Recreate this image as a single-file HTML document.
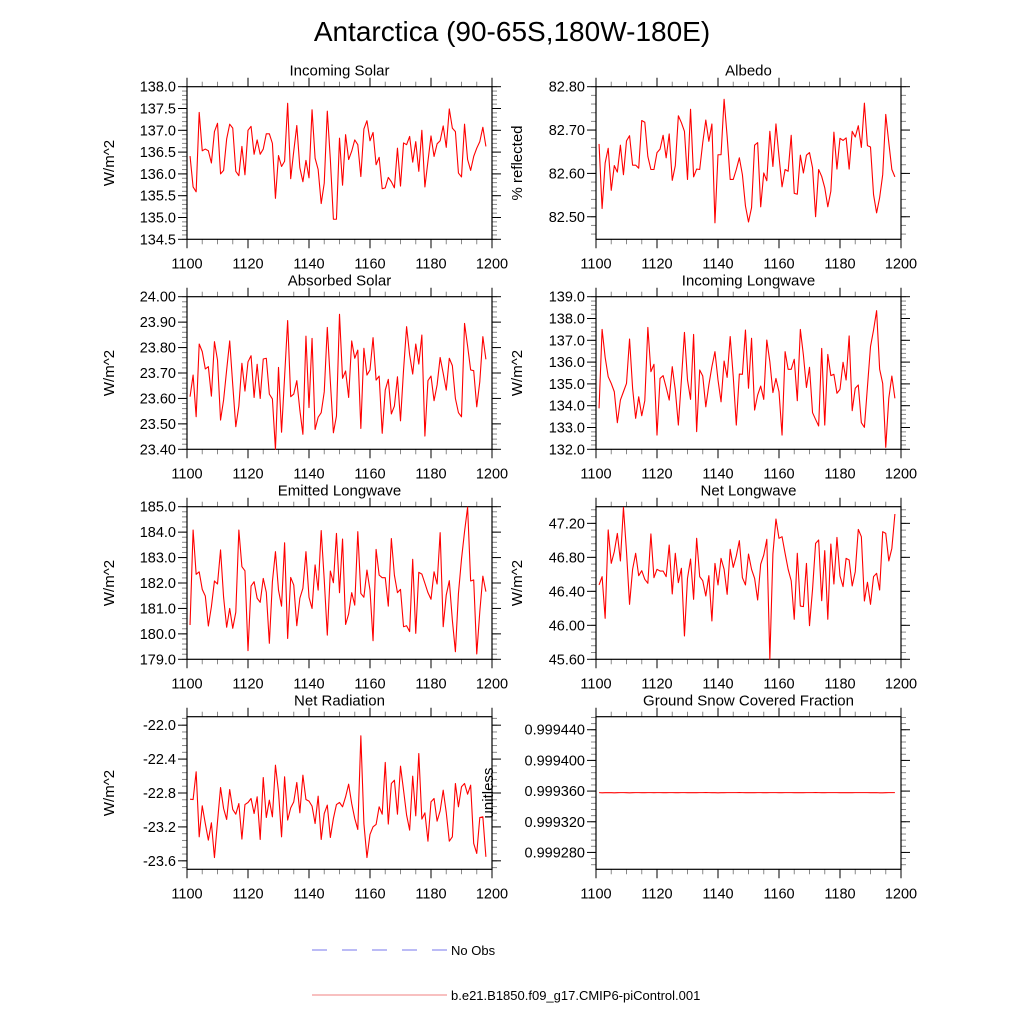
<!DOCTYPE html>
<html><head><meta charset="utf-8"><style>
html,body{margin:0;padding:0;background:#fff;}
svg{display:block;font-family:"Liberation Sans",Arial,sans-serif;}
</style></head><body>
<svg id="chart" width="1024" height="1024" viewBox="0 0 1024 1024" xmlns="http://www.w3.org/2000/svg">
<text x="512" y="41" text-anchor="middle" font-size="28" fill="#000">Antarctica (90-65S,180W-180E)</text>
<g>
<line x1="312" y1="950" x2="447" y2="950" stroke="#7777ee" stroke-width="1" stroke-dasharray="15,15"/>
<text x="451" y="955" font-size="13">No Obs</text>
<line x1="312" y1="995" x2="447" y2="995" stroke="#f08080" stroke-width="1"/>
<text x="451" y="1000" font-size="13">b.e21.B1850.f09_g17.CMIP6-piControl.001</text>
</g>
</svg>
<script>
const startYear = 1101;
const xTickLabels = [1100, 1120, 1140, 1160, 1180, 1200];
const incomingSolar = [136.41,135.70,135.59,137.41,136.53,136.57,136.53,136.25,136.97,137.16,136.0,136.08,136.8,137.14,137.05,136.06,135.96,136.63,135.98,137.0,137.09,136.45,136.78,136.45,136.57,136.92,136.92,136.7,135.44,136.42,136.17,136.29,137.62,135.89,136.52,137.11,136.14,135.82,136.31,135.91,137.47,136.36,136.1,135.32,135.79,137.44,136.33,134.96,134.96,136.82,135.74,136.9,136.33,136.52,136.78,136.67,135.94,137.03,137.22,136.76,136.95,136.21,136.38,135.66,135.68,135.92,135.82,135.68,136.59,135.72,136.71,136.67,136.86,136.27,136.74,136.06,137.0,135.70,136.29,136.87,136.40,136.69,136.76,137.10,136.61,137.49,137.05,136.97,136.02,135.93,137.14,136.33,136.08,136.40,136.59,136.74,137.07,136.63];
const albedo = [82.668,82.519,82.624,82.658,82.561,82.618,82.603,82.665,82.597,82.675,82.687,82.619,82.619,82.612,82.722,82.718,82.639,82.609,82.609,82.648,82.656,82.688,82.636,82.691,82.584,82.618,82.733,82.717,82.697,82.586,82.748,82.592,82.610,82.609,82.671,82.723,82.674,82.714,82.486,82.643,82.643,82.771,82.685,82.586,82.586,82.609,82.636,82.597,82.525,82.488,82.521,82.665,82.671,82.523,82.601,82.583,82.697,82.616,82.714,82.639,82.569,82.609,82.605,82.688,82.554,82.552,82.642,82.601,82.642,82.648,82.613,82.500,82.609,82.593,82.567,82.523,82.559,82.695,82.610,82.681,82.676,82.682,82.610,82.697,82.684,82.710,82.660,82.762,82.664,82.661,82.551,82.509,82.544,82.597,82.736,82.671,82.609,82.592];
const absorbedSolar = [23.607,23.692,23.528,23.814,23.784,23.716,23.725,23.609,23.823,23.751,23.515,23.594,23.712,23.826,23.653,23.489,23.570,23.738,23.629,23.744,23.768,23.604,23.734,23.600,23.755,23.758,23.617,23.598,23.400,23.722,23.467,23.685,23.906,23.607,23.617,23.670,23.554,23.459,23.845,23.564,23.836,23.478,23.526,23.544,23.626,23.879,23.666,23.465,23.531,23.931,23.679,23.708,23.604,23.826,23.758,23.790,23.482,23.797,23.692,23.712,23.839,23.672,23.688,23.463,23.633,23.675,23.539,23.570,23.685,23.512,23.712,23.882,23.771,23.696,23.814,23.735,23.849,23.452,23.670,23.688,23.591,23.653,23.761,23.699,23.633,23.758,23.729,23.600,23.544,23.528,23.895,23.806,23.712,23.709,23.567,23.666,23.843,23.754];
const incomingLongwave = [133.88,137.50,136.22,135.33,135.02,134.64,133.22,134.26,134.64,135.02,137.06,134.80,133.42,134.41,133.54,134.23,137.59,135.56,135.90,132.65,135.25,135.38,134.84,134.26,135.79,134.72,133.11,135.18,137.36,135.18,134.29,137.27,132.81,135.64,135.36,133.95,134.95,135.79,136.48,135.18,134.18,136.05,135.30,137.17,135.33,133.11,135.45,135.44,137.47,134.80,137.09,133.80,134.49,134.90,134.29,137.01,136.02,134.60,135.25,134.64,132.65,136.48,135.67,135.67,136.13,134.23,137.50,136.32,134.84,135.76,133.68,133.37,133.07,136.63,133.11,136.35,135.38,135.44,134.57,134.75,135.99,135.18,137.20,133.77,134.80,134.95,133.22,133.01,134.87,136.71,137.47,138.36,135.67,135.02,132.09,134.34,135.36,134.34];
const emittedLongwave = [180.35,184.08,182.34,182.44,181.75,181.49,180.31,181.07,182.08,181.96,183.30,181.44,180.26,181.00,180.22,180.85,184.08,182.64,182.48,179.34,181.88,182.05,181.40,181.24,182.18,181.63,179.63,182.05,183.23,181.72,181.09,183.58,179.82,182.22,181.92,180.32,181.40,181.79,183.23,181.44,181.00,182.71,181.72,184.06,182.12,179.95,182.47,182.01,183.95,181.62,183.73,180.37,180.78,181.62,181.13,184.02,181.59,181.44,182.51,181.72,179.73,183.32,182.31,182.21,182.21,181.09,183.75,182.31,181.62,181.75,180.28,180.32,180.09,182.93,180.02,182.42,182.35,181.99,181.62,181.36,182.44,181.96,183.98,180.28,181.53,182.09,180.54,179.30,181.59,182.94,184.02,184.98,182.08,182.12,179.21,180.87,182.27,181.66];
const netLongwave = [46.475,46.573,46.082,47.122,46.729,46.867,47.082,46.757,47.388,46.867,46.247,46.659,46.847,46.584,46.643,46.541,46.494,47.075,46.561,46.659,46.639,46.639,46.573,46.945,46.369,46.847,46.502,46.671,45.875,46.553,46.780,46.306,47.024,46.573,46.525,46.345,46.584,46.051,46.729,46.475,46.788,46.659,46.365,46.894,46.682,46.816,46.996,46.561,46.475,46.839,46.659,46.553,46.298,46.720,46.827,47.012,45.600,46.839,47.251,47.024,47.043,46.847,46.659,46.525,46.071,46.847,46.227,46.220,46.729,45.996,46.424,46.965,47.004,46.290,46.878,46.071,46.957,46.486,47.035,46.580,46.455,46.788,46.769,46.463,46.631,47.129,47.043,46.286,46.506,46.247,46.573,46.612,46.416,47.102,47.082,46.757,46.906,47.310];
const netRadiation = [-22.873,-22.877,-22.550,-23.317,-22.951,-23.160,-23.356,-23.152,-23.561,-23.140,-22.735,-22.983,-23.112,-22.759,-22.994,-23.050,-22.924,-23.344,-22.936,-22.912,-22.865,-23.042,-22.845,-23.348,-22.617,-23.089,-22.884,-23.081,-22.472,-22.786,-23.317,-22.609,-23.120,-22.975,-22.904,-22.676,-23.034,-22.590,-22.877,-22.896,-22.955,-23.160,-22.837,-23.348,-23.042,-22.943,-23.325,-23.101,-22.936,-22.912,-22.963,-22.845,-22.696,-22.924,-23.101,-23.230,-22.126,-23.160,-23.561,-23.289,-23.199,-23.171,-22.963,-23.050,-22.440,-23.167,-22.688,-22.649,-23.050,-22.483,-22.767,-23.061,-23.238,-22.601,-23.069,-22.334,-23.108,-23.034,-23.368,-22.904,-22.865,-23.132,-23.010,-22.767,-23.030,-23.368,-23.317,-22.688,-22.963,-22.727,-22.688,-22.814,-22.708,-23.395,-23.513,-23.089,-23.081,-23.553];
const snowFraction = [0.9993580,0.9993578,0.9993579,0.9993580,0.9993579,0.9993578,0.9993579,0.9993580,0.9993580,0.9993579,0.9993578,0.9993579,0.9993580,0.9993580,0.9993579,0.9993579,0.9993580,0.9993580,0.9993579,0.9993580,0.9993580,0.9993579,0.9993579,0.9993580,0.9993580,0.9993579,0.9993579,0.9993580,0.9993580,0.9993579,0.9993579,0.9993580,0.9993579,0.9993580,0.9993580,0.9993581,0.9993580,0.9993579,0.9993579,0.9993578,0.9993579,0.9993579,0.9993580,0.9993580,0.9993580,0.9993580,0.9993581,0.9993580,0.9993579,0.9993579,0.9993580,0.9993579,0.9993580,0.9993580,0.9993579,0.9993579,0.9993580,0.9993580,0.9993580,0.9993579,0.9993579,0.9993580,0.9993580,0.9993580,0.9993579,0.9993580,0.9993579,0.9993579,0.9993580,0.9993580,0.9993580,0.9993581,0.9993580,0.9993579,0.9993579,0.9993580,0.9993580,0.9993580,0.9993580,0.9993579,0.9993580,0.9993579,0.9993580,0.9993579,0.9993580,0.9993580,0.9993580,0.9993580,0.9993580,0.9993579,0.9993579,0.9993580,0.9993578,0.9993577,0.9993579,0.9993580,0.9993580,0.9993580];

const NS = "http://www.w3.org/2000/svg";
const svg = document.getElementById("chart");
function mk(tag, attrs, parent) {
  const e = document.createElementNS(NS, tag);
  for (const k in attrs) e.setAttribute(k, attrs[k]);
  (parent || svg).appendChild(e);
  return e;
}
const panels = [
  {title:"Incoming Solar", data:incomingSolar, ylab:"W/m^2", ymin:134.5, ymax:138.0, major0:134.5, majorStep:0.5, minorStep:0.1, dec:1, col:0, row:0},
  {title:"Albedo", data:albedo, ylab:"% reflected", ymin:82.448, ymax:82.80, major0:82.50, majorStep:0.1, minorStep:0.02, dec:2, col:1, row:0},
  {title:"Absorbed Solar", data:absorbedSolar, ylab:"W/m^2", ymin:23.40, ymax:24.00, major0:23.40, majorStep:0.1, minorStep:0.02, dec:2, col:0, row:1},
  {title:"Incoming Longwave", data:incomingLongwave, ylab:"W/m^2", ymin:132.0, ymax:139.0, major0:132.0, majorStep:1, minorStep:0.2, dec:1, col:1, row:1},
  {title:"Emitted Longwave", data:emittedLongwave, ylab:"W/m^2", ymin:179.0, ymax:185.0, major0:179.0, majorStep:1, minorStep:0.2, dec:1, col:0, row:2},
  {title:"Net Longwave", data:netLongwave, ylab:"W/m^2", ymin:45.60, ymax:47.396, major0:45.60, majorStep:0.4, minorStep:0.08, dec:2, col:1, row:2},
  {title:"Net Radiation", data:netRadiation, ylab:"W/m^2", ymin:-23.70, ymax:-21.90, major0:-23.6, majorStep:0.4, minorStep:0.08, dec:1, col:0, row:3},
  {title:"Ground Snow Covered Fraction", data:snowFraction, ylab:"unitless", ymin:0.999258, ymax:0.999457, major0:0.99928, majorStep:0.00004, minorStep:0.000008, dec:6, col:1, row:3}
];
const colX = [187, 596], W = 305, rowY = [86.7, 296.7, 506.7, 716.7], H = 152.6;
const ylabX = [114, 522];

panels.forEach(function(p, idx) {
  const L = colX[p.col], T = rowY[p.row], R = L + W, B = T + H;
  const xs = function(yr){ return L + (yr - 1100) / 100 * W; };
  const ys = function(v){ return B - (v - p.ymin) / (p.ymax - p.ymin) * H; };
  const g = mk("g", {});
  
  
  const t = mk("text", {x:(L+R)/2, y:T-11, "text-anchor":"middle", "font-size":"15"}, g);
  t.textContent = p.title;
  
  
  const nMin = Math.round((p.ymax - p.ymin) / p.minorStep) + 2;
  const minStart = p.major0 - Math.floor((p.major0 - p.ymin) / p.minorStep + 1e-6) * p.minorStep;
  for (let i = 0; i < nMin; i++) {
    const v = minStart + i * p.minorStep;
    if (v > p.ymax + 1e-9) break;
    const y = ys(v);
    const m1 = mk("line", {x1:L-5, x2:L, y1:y, y2:y, stroke:"#888", "stroke-width":"1"}, g);
    
    
    const m2 = mk("line", {x1:R, x2:R+5, y1:y, y2:y, stroke:"#888", "stroke-width":"1"}, g);
    
    
  }
  for (let i = 0; i < 40; i++) {
    const v = p.major0 + i * p.majorStep;
    if (v > p.ymax + 1e-9) break;
    const y = ys(v);
    const a = mk("line", {x1:L-9, x2:L, y1:y, y2:y, stroke:"#000", "stroke-width":"1"}, g);
    
    
    const b = mk("line", {x1:R, x2:R+9, y1:y, y2:y, stroke:"#000", "stroke-width":"1"}, g);
    
    
    const lb = mk("text", {x:L-11, y:y+5, "text-anchor":"end", "font-size":"14.5"}, g);
    lb.textContent = v.toFixed(p.dec);
    
    
  }
  for (let yr = 1100; yr <= 1200; yr += 5) {
    const x = xs(yr);
    const major = (yr % 20 === 0);
    const len = major ? 9 : 5;
    const col = major ? "#000" : "#888";
    const a = mk("line", {x1:x, x2:x, y1:B, y2:B+len, stroke:col, "stroke-width":"1"}, g);
    
    
    const b = mk("line", {x1:x, x2:x, y1:T-len, y2:T, stroke:col, "stroke-width":"1"}, g);
    
    
  }
  xTickLabels.forEach(function(lbv) {
    const lb = mk("text", {x:xs(lbv), y:B+29, "text-anchor":"middle", "font-size":"14.5"}, g);
    lb.textContent = String(lbv);
    
    
  });
  const fr = mk("rect", {x:L, y:T, width:W, height:H, fill:"none", stroke:"#000", "stroke-width":"1.2"}, g);
  
  
  const yx = p.title === "Ground Snow Covered Fraction" ? 493 : ylabX[p.col];
  const yl = mk("text", {x:yx, y:(T+B)/2, "text-anchor":"middle", "font-size":"15", transform:"rotate(-90 " + yx + " " + ((T+B)/2) + ")"}, g);
  yl.textContent = p.ylab;
  
  
  const pts = p.data.map(function(v, i){ return xs(startYear + i).toFixed(2) + "," + ys(v).toFixed(2); }).join(" ");
  const pl = mk("polyline", {points:pts, fill:"none", stroke:"#ff0000", "stroke-width":"1.1", "stroke-linejoin":"round"}, g);
  
  
});
</script>
</body></html>
